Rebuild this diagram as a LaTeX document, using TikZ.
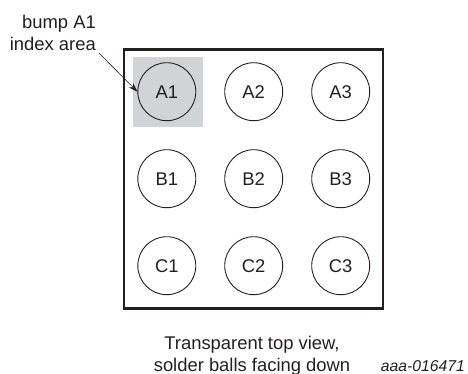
\documentclass[tikz,border=0pt]{standalone}
\usepackage{fontspec}
\setmainfont{Liberation Sans}
\usetikzlibrary{arrows.meta}
\definecolor{ink}{HTML}{231F20}
\definecolor{idx}{HTML}{D1D3D4}
\tikzset{
  x=1pt,y=-1pt,
  ball/.style={circle,draw=ink,line width=0.9pt,minimum size=58pt,inner sep=0pt,text=ink,font=\fontsize{18.4}{20}\selectfont},
  lab/.style={text=ink,inner sep=0pt,font=\fontsize{18.4}{22}\selectfont,align=center,anchor=center},
}
\begin{document}
\begin{tikzpicture}
\useasboundingbox (0,0) rectangle (468,374);
\node[fill=idx,minimum size=70pt,inner sep=0pt] (index) at (168,92) {};
\node[draw=ink,line width=2.3pt,minimum width=259pt,minimum height=259pt,inner sep=0pt] (pkg) at (253.7,179) {};
\foreach \r/\y in {A/91.7,B/178.7,C/265.7}{
  \foreach \c/\x in {1/166.8,2/253.7,3/340.7}{
    \node[ball] (\r\c) at (\x,\y) {\r\c};
  }
}
\node[lab,align=right,anchor=east] (note) at (96,33) {bump A1\\index area};
\coordinate (tail) at (99,53);
\draw[ink,line width=0.6pt,-{Stealth[length=9pt,width=6pt]}] (tail) -- (A1.west);
\node[lab] (cap) at (252,355.5) {Transparent top view,\\solder balls facing down};
\node[text=ink,inner sep=0pt,font=\fontsize{15.7}{18}\selectfont\itshape,anchor=east] (code) at (465,366) {aaa-016471};
\end{tikzpicture}
\end{document}
